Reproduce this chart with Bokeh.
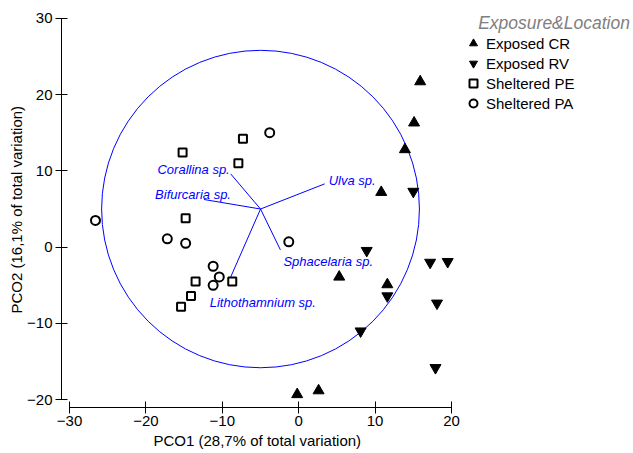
from bokeh.plotting import figure
from bokeh.models import Range1d, FixedTicker, Label, Legend, LegendItem, ColumnDataSource, Title
from bokeh.core.properties import value
from bokeh.embed import file_html
from bokeh.resources import INLINE

# ---- data ----
cr_x = [15.9, 15.1, 13.9, 10.8, 5.3, 11.6, -0.2, 2.6]
cr_y = [21.7, 16.3, 12.8, 7.2, -3.9, -4.9, -19.3, -18.8]

rv_x = [15.0, 8.9, 17.2, 19.5, 11.6, 18.1, 8.1, 17.9]
rv_y = [7.3, -0.45, -2.0, -1.9, -6.4, -7.35, -11.0, -15.8]

pe_x = [-15.2, -7.3, -7.9, -14.8, -13.5, -8.7, -14.1, -15.4]
pe_y = [12.4, 14.2, 11.0, 3.8, -4.5, -4.5, -6.4, -7.8]

pa_x = [-3.8, -26.6, -17.2, -14.8, -11.2, -10.4, -11.2, -1.3]
pa_y = [15.0, 3.5, 1.1, 0.5, -2.5, -3.9, -5.0, 0.7]

origin_x = -5.0
origin_y = 5.0
circle_radius = 20.8

vec_names = ["Ulva sp.", "Corallina sp.", "Bifurcaria sp.", "Sphacelaria sp.", "Lithothamnium sp."]
vec_x = [3.4, -8.9, -12.4, -2.4, -8.9]
vec_y = [8.3, 9.6, 6.25, -0.35, -3.9]

x_ticks = [-30, -20, -10, 0, 10, 20]
y_ticks = [-20, -10, 0, 10, 20, 30]

group_labels = ["Exposed CR", "Exposed RV", "Sheltered PE", "Sheltered PA"]
legend_title = "Exposure&Location"
x_title = "PCO1 (28,7% of total variation)"
y_title = "PCO2 (16,1% of total variation)"

FONT = "Liberation Sans"
BLUE = "#0000FF"

p = figure(width=633, height=453,
           x_range=Range1d(-31.05, 43.82), y_range=Range1d(-21.01, 31.28),
           output_backend="svg", toolbar_location=None,
           min_border_left=61, min_border_right=0, min_border_top=8, min_border_bottom=46)
p.xgrid.visible = False
p.ygrid.visible = False
p.outline_line_color = None
p.background_fill_color = "white"

for ax, ticks in ((p.xaxis, x_ticks), (p.yaxis, y_ticks)):
    ax.ticker = FixedTicker(ticks=ticks)
    ax.bounds = (min(ticks), max(ticks))
    ax.minor_tick_line_color = None
    ax.major_tick_in = 6
    ax.major_tick_out = 6
    ax.axis_line_color = "black"
    ax.major_tick_line_color = "black"
    ax.major_label_text_font = FONT
    ax.major_label_text_font_size = "15px"
    ax.major_label_text_color = "black"
p.xaxis.major_label_standoff = 2
p.yaxis.major_label_standoff = 3

# axis titles
p.add_layout(Title(text=x_title, align="left", offset=92, standoff=2,
                   text_font=FONT, text_font_size="15px", text_font_style="normal",
                   text_color="black"), "below")
p.add_layout(Title(text=y_title, align="left", offset=94, standoff=0,
                   text_font=FONT, text_font_size="15px", text_font_style="normal",
                   text_color="black"), "left")

# correlation circle and vectors
p.ellipse(x=[origin_x], y=[origin_y], width=[2 * circle_radius], height=[2 * circle_radius],
          fill_color=None, line_color=BLUE, line_width=1)
p.segment(x0=[origin_x] * len(vec_x), y0=[origin_y] * len(vec_y), x1=vec_x, y1=vec_y,
          line_color=BLUE, line_width=1)

lab_src = ColumnDataSource(dict(
    x=vec_x, y=vec_y, text=vec_names,
    dx=[4, -1, 27, 3, -21],
    dy=[-3, -4, -5, 12, 26],
    align=["left", "right", "right", "left", "left"],
))
p.text(x="x", y="y", text="text", x_offset="dx", y_offset="dy", text_align="align",
       source=lab_src, text_font=value(FONT), text_font_style="italic",
       text_font_size="13px", text_color=BLUE, text_baseline="alphabetic")

# samples
r_cr = p.scatter(cr_x, cr_y, marker="triangle", size=11, fill_color="black", line_color="black")
r_rv = p.scatter(rv_x, rv_y, marker="inverted_triangle", size=11, fill_color="black", line_color="black")
r_pe = p.scatter(pe_x, pe_y, marker="square", size=8, fill_color=None, line_color="black", line_width=2)
r_pa = p.scatter(pa_x, pa_y, marker="circle", size=9, fill_color=None, line_color="black", line_width=2)

legend = Legend(
    items=[LegendItem(label=l, renderers=[r]) for l, r in zip(group_labels, [r_cr, r_rv, r_pe, r_pa])],
    location=(401, 294),
    label_text_font=FONT, label_text_font_size="15px", label_text_color="black",
    glyph_width=22, glyph_height=20, label_height=20, spacing=0, label_standoff=2,
    padding=0, margin=0, border_line_color=None, background_fill_alpha=0,
)
p.add_layout(legend)

# legend title
p.add_layout(Label(x=23.49, y=29.41, text=legend_title, text_align="left", text_baseline="alphabetic",
                   text_font=FONT, text_font_size="17.5px", text_font_style="italic",
                   text_color="#808080"))

open("out.html", "w").write(file_html(p, INLINE))
